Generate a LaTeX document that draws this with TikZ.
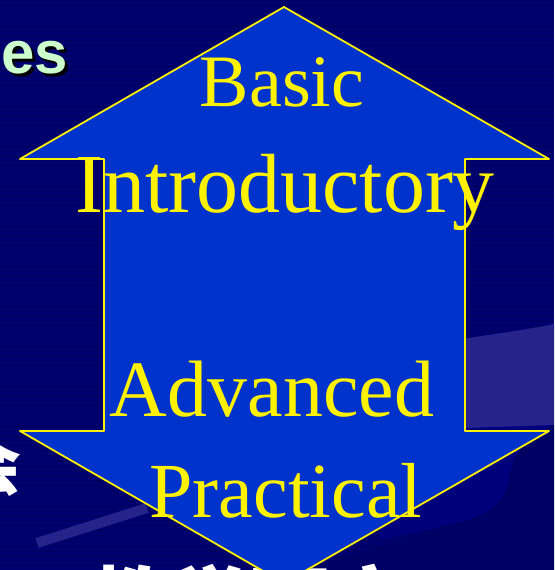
\documentclass[tikz,border=0pt]{standalone}
\usepackage{fontspec}
\setmainfont{Liberation Serif}
\newfontfamily\slidesans{Liberation Sans}
\newfontfamily\cjkfont{Noto Sans CJK SC}

\definecolor{slidebg}{RGB}{0,0,112}
\definecolor{slidestripe}{RGB}{0,0,98}
\definecolor{slidedark}{RGB}{0,0,100}
\definecolor{swooshlight}{RGB}{38,36,138}
\definecolor{swooshmid}{RGB}{0,0,124}
\definecolor{arrowfill}{RGB}{0,51,204}
\definecolor{titlegreen}{RGB}{204,255,204}

\tikzset{
  levellabel/.style={text=yellow,inner sep=0pt,anchor=base},
  titletext/.style={inner sep=0pt,anchor=base east,font=\slidesans\bfseries\fontsize{60}{66}\selectfont},
  cjktext/.style={text=white,inner sep=0pt,font=\cjkfont\bfseries\fontsize{80}{80}\selectfont}
}

\begin{document}
\begin{tikzpicture}[x=1pt,y=1pt,yscale=-1]
    \useasboundingbox (0,0) rectangle (554,570);
    \clip (0,0) rectangle (554,570);
    % slide background
    \fill[slidebg] (0,0) rectangle (554,570);
    \foreach \sy in {0,5,...,570}
      \fill[slidestripe] (0,\sy) rectangle (554,\sy+2);
    \fill[swooshlight] (440,342) .. controls (480,336) and (520,331) .. (554,324) -- (554,425) -- (440,440) -- cycle;
    \fill[swooshmid] (380,431) -- (554,425) .. controls (525,440) and (512,455) .. (510,475) .. controls (507,500) and (490,515) .. (460,522) -- (380,540) -- cycle;
    \fill[slidedark] (554,425) .. controls (525,440) and (512,455) .. (510,475) .. controls (507,500) and (490,515) .. (460,522) -- (300,570) -- (554,570) -- cycle;
    \draw[swooshlight,line width=10pt] (37,543) -- (147,508);
    % slide texts behind the arrow
    \node[titletext,text=black] (titleshadow) at (71,76) {es};
    \node[titletext,text=titlegreen] (title) at (68,73) {es};
    \node[cjktext,anchor=east,font=\cjkfont\bfseries\fontsize{64}{64}\selectfont] (leftchar) at (22,466) {会};
    \node[cjktext,anchor=north west] (bottomrow) at (90,564) {教学研究};
    % double arrow
    \filldraw[fill=arrowfill,draw=yellow,line width=1.8pt,line join=round]
      (284,7) -- (549,159) -- (465,159) -- (465,431) -- (549,431) -- (284,583)
      -- (20,431) -- (104,431) -- (104,159) -- (20,159) -- cycle;
    \node[levellabel,font=\fontsize{74}{80}\selectfont] (basic) at (282,106) {Basic};
    \node[levellabel,font=\fontsize{84}{90}\selectfont] (intro) at (285,212) {Introductory};
    \node[levellabel,font=\fontsize{80}{90}\selectfont] (advanced) at (272,416) {Advanced};
    \node[levellabel,font=\fontsize{78}{90}\selectfont] (practical) at (286,517) {Practical};
\end{tikzpicture}
\end{document}
